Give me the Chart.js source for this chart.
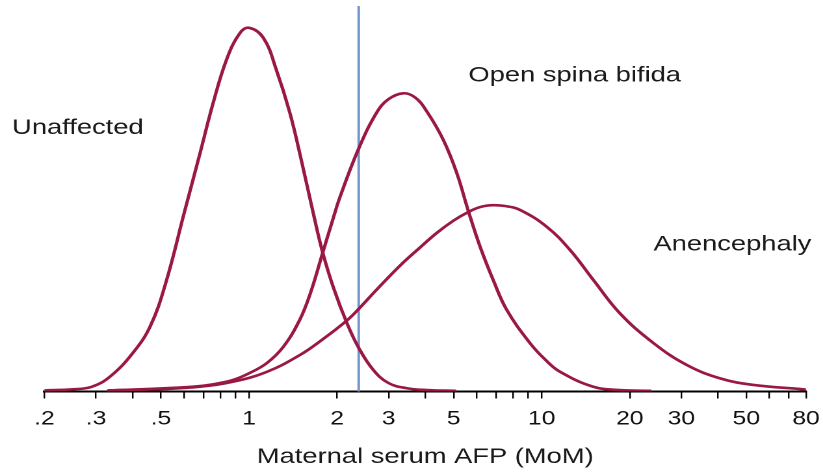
<!DOCTYPE html>
<html>
<head>
<meta charset="utf-8">
<title>Maternal serum AFP</title>
<script src="https://cdn.jsdelivr.net/npm/chart.js@4.4.1/dist/chart.umd.min.js"></script>
<style>
  html, body { margin: 0; padding: 0; background: #fff; overflow: hidden; }
  /* the source picture is stretched sideways, so draw narrow and widen */
  #wrap { width: 633px; height: 472px; transform: scaleX(1.3002); transform-origin: 0 0; }
</style>
</head>
<body>
<div id="wrap"><canvas id="afpChart"></canvas></div>
<script>
// MoM values and relative heights (Unaffected peak = 100)
const unaffectedMoM = [0.2, 0.25, 0.29, 0.335, 0.40, 0.46, 0.52, 0.60, 0.68, 0.755, 0.84, 0.93, 1.0, 1.12, 1.24, 1.38, 1.51, 1.66, 1.78, 1.94, 2.16, 2.37, 2.66, 3.0, 3.46, 4.05, 5.06];
const unaffectedY   = [0.3, 0.6, 1.3, 4.1, 10.5, 18.0, 30.0, 49.0, 65.5, 79.5, 91.5, 98.5, 100, 97.2, 88.4, 76.5, 63.5, 48.8, 38.6, 28.7, 18.8, 12.0, 5.9, 2.3, 0.9, 0.4, 0.2];

const spinaMoM = [0.331, 0.52, 0.68, 0.78, 0.884, 1.0, 1.15, 1.31, 1.49, 1.62, 1.78, 1.94, 2.05, 2.37, 2.73, 3.0, 3.37, 3.7, 4.05, 4.61, 5.13, 5.62, 6.16, 6.84, 7.6, 9.12, 10.3, 11.56, 15.0, 18.5, 23.5];
const spinaY   = [0.3, 0.9, 1.5, 2.2, 3.2, 5.0, 7.8, 12.3, 19.7, 27.0, 37.8, 47.7, 53.7, 66.8, 76.7, 80.4, 82.0, 80.8, 77.0, 69.2, 60.0, 49.5, 39.8, 30.5, 22.4, 13.3, 8.7, 5.4, 1.3, 0.4, 0.2];

const anencephalyMoM = [0.331, 0.52, 0.68, 0.884, 1.15, 1.49, 1.795, 2.157, 2.37, 2.73, 3.28, 3.84, 4.38, 5.0, 5.6, 6.1, 6.66, 7.5, 8.44, 10.4, 12.5, 15.0, 18.5, 24.1, 31.3, 40.7, 52.9, 78.3, 80];
const anencephalyY   = [0.3, 0.7, 1.3, 2.7, 5.4, 10.0, 14.5, 19.5, 22.7, 28.0, 34.6, 39.6, 43.6, 47.0, 49.3, 50.6, 51.2, 51.0, 49.9, 45.3, 38.9, 30.7, 21.5, 13.3, 7.3, 3.6, 1.8, 0.6, 0.5];

const cutoffMoM = 2.37;
const yTop = 106;

const tickValues = [0.2, 0.3, 0.4, 0.5, 0.6, 0.7, 0.8, 0.9, 1, 2, 3, 4, 5, 6, 7, 8, 9, 10, 20, 30, 40, 50, 60, 70, 80];
const tickLabels = { 0.2: '.2', 0.3: '.3', 0.5: '.5', 1: '1', 2: '2', 3: '3', 5: '5', 10: '10', 20: '20', 30: '30', 50: '50', 80: '80' };

const curveLabels   = ['Unaffected', 'Open spina bifida', 'Anencephaly'];
const curveLabelMoM = [0.155, 5.62, 24.1];
const curveLabelY   = [72.4, 86.9, 40.4];

const fontFamily = '"Liberation Sans", Arial, Helvetica, sans-serif';
const crimson = '#9a1846';
const blue = '#7397cc';

function toPoints(xs, ys) {
    return xs.map((x, i) => ({ x: x, y: ys[i] }));
}

// names written next to the curves
const curveLabelPlugin = {
    id: 'curveLabels',
    afterDatasetsDraw(chart) {
        const { ctx, scales: { x, y } } = chart;
        ctx.save();
        ctx.font = '21px ' + fontFamily;
        ctx.fillStyle = '#1a1a1a';
        ctx.textAlign = 'left';
        ctx.textBaseline = 'middle';
        curveLabels.forEach((text, i) => {
            ctx.fillText(text, x.getPixelForValue(curveLabelMoM[i]), y.getPixelForValue(curveLabelY[i]));
        });
        ctx.restore();
    }
};

const curveStyle = {
    borderColor: crimson,
    borderWidth: 2.6,
    tension: 0.4,
    fill: false
};

const ctx = document.getElementById('afpChart').getContext('2d');
new Chart(ctx, {
    type: 'line',
    data: {
        datasets: [
            Object.assign({ label: 'Unaffected', data: toPoints(unaffectedMoM, unaffectedY) }, curveStyle),
            Object.assign({ label: 'Open spina bifida', data: toPoints(spinaMoM, spinaY) }, curveStyle),
            Object.assign({ label: 'Anencephaly', data: toPoints(anencephalyMoM, anencephalyY) }, curveStyle),
            // last dataset is drawn first, so the cutoff sits under the curves
            { label: 'Cutoff', data: [{ x: cutoffMoM, y: 0 }, { x: cutoffMoM, y: yTop }], borderColor: blue, borderWidth: 2, tension: 0 }
        ]
    },
    options: {
        responsive: true,
        maintainAspectRatio: false,
        devicePixelRatio: 2,
        animation: false,
        events: [],
        layout: { padding: { left: 34.2, right: 13.1, top: 6, bottom: 0 } },
        plugins: {
            legend: { display: false },
            tooltip: { enabled: false }
        },
        elements: {
            point: { radius: 0 },
            line: { borderJoinStyle: 'round', borderCapStyle: 'round' }
        },
        scales: {
            x: {
                type: 'logarithmic',
                min: 0.2,
                max: 80,
                afterBuildTicks: (scale) => {
                    scale.ticks = tickValues.map(v => ({ value: v }));
                },
                ticks: {
                    autoSkip: false,
                    maxRotation: 0,
                    padding: 0,
                    color: '#111',
                    font: { family: fontFamily, size: 19, lineHeight: 2.19 },
                    callback: (value) => tickLabels[value] ?? ''
                },
                grid: { drawOnChartArea: false, drawTicks: true, tickLength: 7, color: '#000', lineWidth: 1.2 },
                border: { display: true, color: '#000', width: 2 },
                title: {
                    display: true,
                    text: 'Maternal serum AFP (MoM)',
                    color: '#1a1a1a',
                    font: { family: fontFamily, size: 21 },
                    padding: { top: 4.3, bottom: 2.4 }
                }
            },
            y: { display: false, min: 0, max: yTop }
        }
    },
    plugins: [curveLabelPlugin]
});
</script>
</body>
</html>
